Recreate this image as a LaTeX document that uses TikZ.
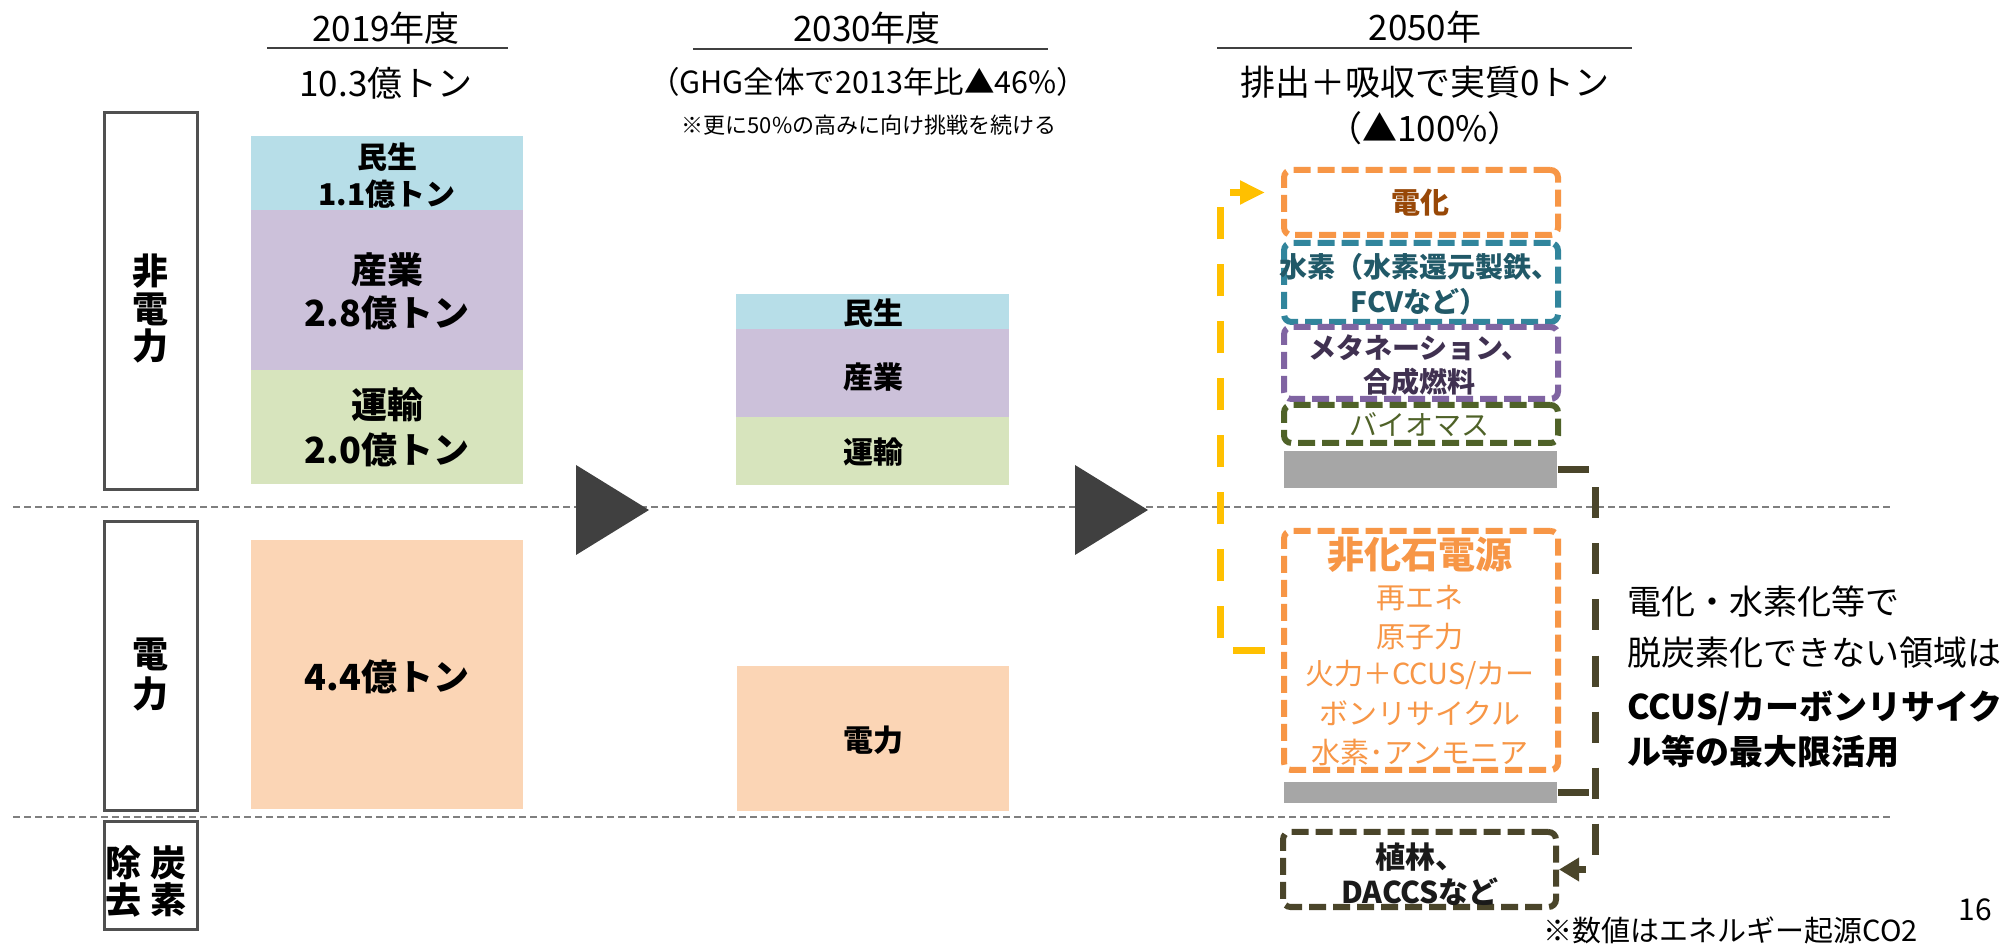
\documentclass[tikz,border=0pt]{standalone}
\usepackage{fontspec}
\setmainfont{Noto Sans CJK JP}
\usetikzlibrary{arrows.meta,fit}
\definecolor{cMin}{HTML}{B7DEE8}
\definecolor{cSan}{HTML}{CCC1DA}
\definecolor{cUn}{HTML}{D7E4BD}
\definecolor{cDen}{HTML}{FBD5B5}
\definecolor{cOr}{HTML}{F79646}
\definecolor{cBr}{HTML}{984807}
\definecolor{cTe}{HTML}{31859C}
\definecolor{cTeT}{HTML}{215968}
\definecolor{cPu}{HTML}{8064A2}
\definecolor{cPuT}{HTML}{403151}
\definecolor{cOl}{HTML}{4F6228}
\definecolor{cDk}{HTML}{4A452A}
\definecolor{cGr}{HTML}{A6A6A6}
\definecolor{cTri}{HTML}{404040}
\definecolor{cYe}{HTML}{FFC000}
\definecolor{cSep}{HTML}{7F7F7F}
\definecolor{cLbl}{HTML}{505050}
\definecolor{cTxt}{HTML}{1A1A1A}
\newcommand\fs[1]{\fontsize{#1pt}{#1pt}\selectfont}
\begin{document}
\begin{tikzpicture}[x=0.4pt,y=-0.4pt,
  t/.style={inner sep=0pt, anchor=center, text=black},
  lbl/.style={draw=cLbl, line width=1.2pt, inner sep=0pt},
  blk/.style={inner sep=0pt, draw=none},
  dbox/.style={line width=2.4pt, dash pattern=on 6.8pt off 2.8pt, rounded corners=3pt, inner sep=0pt},
  yl/.style={draw=cYe, line width=2.8pt, dash pattern=on 12.8pt off 10pt, -{Triangle[length=10pt,width=9pt]}},
  dk/.style={draw=cDk, line width=2.8pt, dash pattern=on 12.4pt off 10pt},
  sepline/.style={draw=cSep, line width=0.8pt, dash pattern=on 2.8pt off 1.6pt},
  ul/.style={draw=cTri, line width=1pt}]
\fill[white] (0,0) rectangle (2007,944);
\useasboundingbox (0,0) rectangle (2007,944);

% headers
\node[t, font=\fs{14}] (h19) at (386,28) {2019年度};
\draw[ul] (267,48) -- (508,48);
\node[t, font=\fs{14}] (s19) at (386,83) {10.3億トン};
\node[t, font=\fs{14}] (h30) at (867,28) {2030年度};
\draw[ul] (693,49) -- (1048,49);
\node[t, font=\fs{12.2}] (s30) at (868,82) {（GHG全体で2013年比▲46\%）};
\node[t, font=\fs{8.8}] (n30) at (869,125) {※更に50\%の高みに向け挑戦を続ける};
\node[t, font=\fs{14}] (h50) at (1425,27) {2050年};
\draw[ul] (1217,48) -- (1632,48);
\node[t, font=\fs{14}] (s50) at (1425,82) {排出＋吸収で実質0トン};
\node[t, font=\fs{14}] (p50) at (1425,128) {（▲100\%）};

% separators
\draw[sepline] (13,507) -- (1890,507);
\draw[sepline] (13,817) -- (1890,817);

% category label boxes
\node[lbl, fit={(104,113)(197,490)}] (bNon) {};
\node[t, align=center, font=\bfseries\fontsize{14.4pt}{15pt}\selectfont] (tNon) at (150,309) {非\\電\\力};
\node[lbl, fit={(104,522)(197,811)}] (bPow) {};
\node[t, align=center, font=\bfseries\fontsize{14.4pt}{16pt}\selectfont] (tPow) at (150,675) {電\\力};
\node[lbl, fit={(104,822)(197,929)}] (bRem) {};
\node[t, font=\bfseries\fs{14.4}] (r1) at (123,863) {除};
\node[t, font=\bfseries\fs{14.4}] (r2) at (168,863) {炭};
\node[t, font=\bfseries\fs{14.4}] (r3) at (123,900) {去};
\node[t, font=\bfseries\fs{14.4}] (r4) at (168,900) {素};

% 2019 stack
\node[blk, fill=cMin, fit={(251,136)(523,210)}] (m19) {};
\node[blk, fill=cSan, fit={(251,210)(523,370)}] (i19) {};
\node[blk, fill=cUn, fit={(251,370)(523,484)}] (t19) {};
\node[blk, fill=cDen, fit={(251,540)(523,809)}] (p19) {};
\node[t, font=\bfseries\fs{12}] (m19a) at (387,157) {民生};
\node[t, font=\bfseries\fs{12}] (m19b) at (387,194) {1.1億トン};
\node[t, font=\bfseries\fs{14.4}] (i19a) at (387,270) {産業};
\node[t, font=\bfseries\fs{14.4}] (i19b) at (387,313) {2.8億トン};
\node[t, font=\bfseries\fs{14.4}] (t19a) at (387,405) {運輸};
\node[t, font=\bfseries\fs{14.4}] (t19b) at (387,450) {2.0億トン};
\node[t, font=\bfseries\fs{14.4}] (p19a) at (387,677) {4.4億トン};

% 2030 stack
\node[blk, fill=cMin, fit={(736,294)(1009,329)}] (m30) {};
\node[blk, fill=cSan, fit={(736,329)(1009,417)}] (i30) {};
\node[blk, fill=cUn, fit={(736,417)(1009,485)}] (t30) {};
\node[blk, fill=cDen, fit={(737,666)(1009,811)}] (p30) {};
\node[t, font=\bfseries\fs{12}] (m30a) at (873,313) {民生};
\node[t, font=\bfseries\fs{12}] (i30a) at (873,377) {産業};
\node[t, font=\bfseries\fs{12}] (t30a) at (873,452) {運輸};
\node[t, font=\bfseries\fs{12}] (p30a) at (873,740) {電力};

% big arrows (triangles)
\fill[cTri] (576,465) -- (576,555) -- (649,510) -- cycle;
\fill[cTri] (1075,465) -- (1075,555) -- (1148,510) -- cycle;

% 2050 boxes
\node[dbox, draw=cOr, fit={(1284,170)(1558,235)}] (elec) {};
\node[t, font=\bfseries\fs{11.6}, text=cBr] (elecT) at (1420,203) {電化};
\node[dbox, draw=cTe, fit={(1284,243)(1558,322)}] (hyd) {};
\node[t, font=\bfseries\fs{11.2}, text=cTeT] (hydT1) at (1419,267) {水素（水素還元製鉄、};
\node[t, font=\bfseries\fs{11.2}, text=cTeT] (hydT2) at (1419,302) {FCVなど）};
\node[dbox, draw=cPu, fit={(1284,327)(1558,399)}] (meth) {};
\node[t, font=\bfseries\fs{11.2}, text=cPuT] (methT1) at (1419,348) {メタネーション、};
\node[t, font=\bfseries\fs{11.2}, text=cPuT] (methT2) at (1419,382) {合成燃料};
\node[dbox, draw=cOl, fit={(1284,405)(1558,443)}] (bio) {};
\node[t, font=\fs{11.2}, text=cOl] (bioT) at (1419,425) {バイオマス};
\node[blk, fill=cGr, fit={(1284,451)(1557,488)}] (bar1) {};

\node[dbox, draw=cOr, fit={(1284,531)(1558,770)}] (nf) {};
\node[t, font=\bfseries\fs{14.8}, text=cOr] (nfT0) at (1420,555) {非化石電源};
\node[t, font=\fs{11.6}, text=cOr] (nfT1) at (1420,598) {再エネ};
\node[t, font=\fs{11.6}, text=cOr] (nfT2) at (1420,637) {原子力};
\node[t, font=\fs{11.6}, text=cOr] (nfT3) at (1420,675) {火力＋CCUS/カー};
\node[t, font=\fs{11.6}, text=cOr] (nfT4) at (1420,713) {ボンリサイクル};
\node[t, font=\fs{11.6}, text=cOr] (nfT5) at (1420,752) {水素･アンモニア};
\node[blk, fill=cGr, fit={(1284,782)(1557,803)}] (bar2) {};

\node[dbox, draw=cDk, fit={(1283,832)(1556,907)}] (daccs) {};
\node[t, font=\bfseries\fs{12}, text=cTxt] (daT1) at (1420,857) {植林、};
\node[t, font=\bfseries\fs{12}, text=cTxt] (daT2) at (1420,892) {DACCSなど};

% connectors
\draw[yl] ([xshift=-6.4pt]nf.west) -- ++(-45,0) |- ([xshift=-6.4pt,yshift=4pt]elec.west);
\draw[dk, -{Triangle[length=8pt,width=9pt]}] (bar1.east) -- ++(38,0) |- (daccs.east);
\draw[dk] (bar2.east) -- ++(38,0);

% right-hand text
\node[t, anchor=west, font=\fs{13.6}] (rt1) at (1627,602) {電化・水素化等で};
\node[t, anchor=west, font=\fs{13.6}] (rt2) at (1627,653) {脱炭素化できない領域は};
\node[t, anchor=west, font=\bfseries\fs{13.6}] (rt3) at (1627,708) {CCUS/カーボンリサイク};
\node[t, anchor=west, font=\bfseries\fs{13.6}] (rt4) at (1627,752) {ル等の最大限活用};

% footer
\node[t, font=\fs{12}] (pg) at (1975,910) {16};
\node[t, anchor=west, font=\fs{11.6}] (fn) at (1543,930) {※数値はエネルギー起源CO2};
\end{tikzpicture}
\end{document}
